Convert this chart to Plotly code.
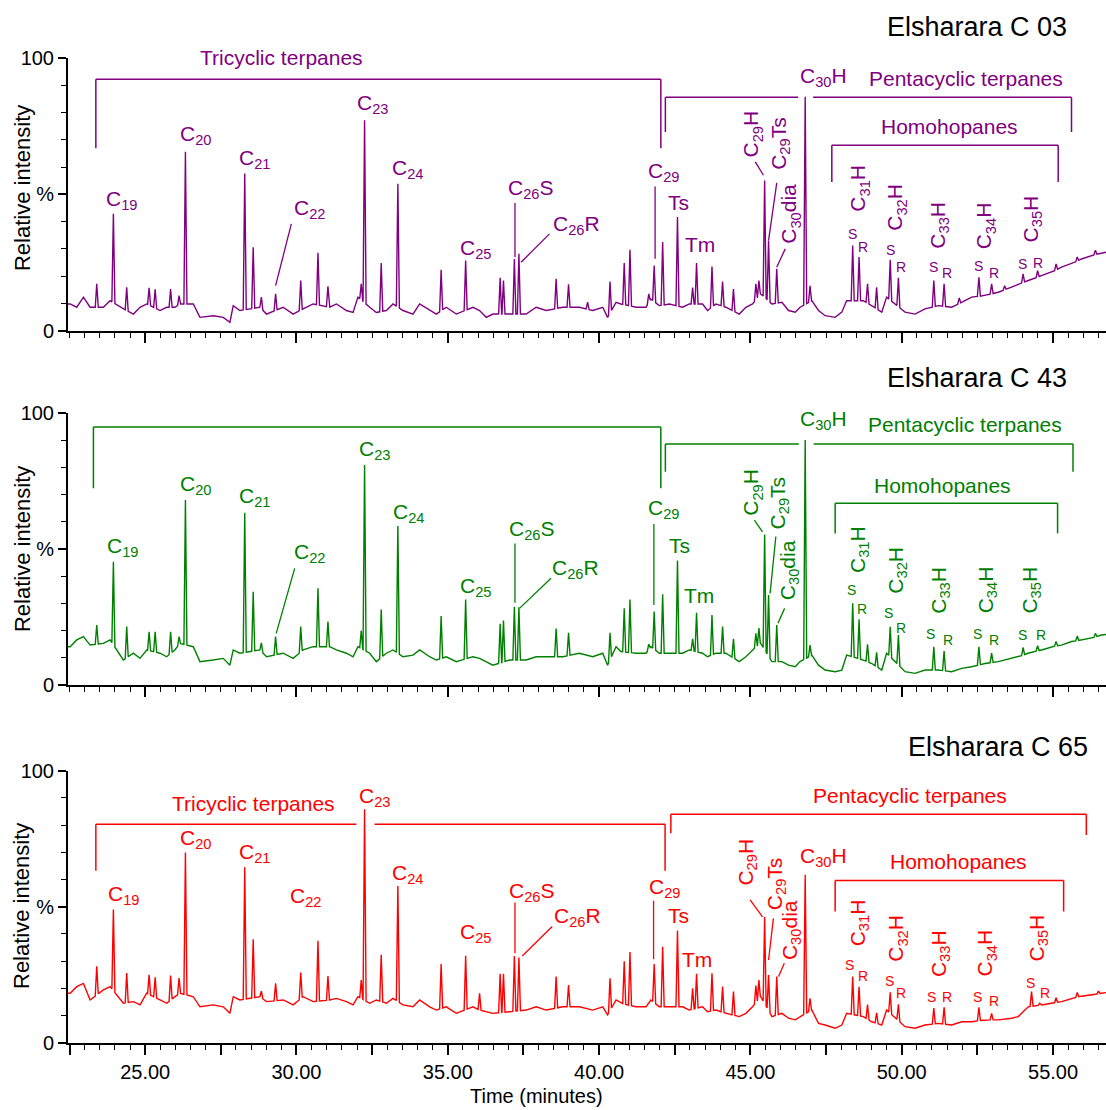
import numpy as np
import plotly.graph_objects as go

# ---------------- data ----------------
x_tickvals = [22.5, 25.0, 27.5, 30.0, 32.5, 35.0, 37.5, 40.0, 42.5, 45.0, 47.5, 50.0, 52.5, 55.0]
x_ticktext = ["", "25.00", "", "30.00", "", "35.00", "", "40.00", "", "45.00", "", "50.00", "", "55.00"]
y_tickvals = [0, 50, 100]
y_ticktext = ["0", "%", "100"]

sample_names = ["Elsharara C 03", "Elsharara C 43", "Elsharara C 65"]

# baseline (noise floor) read at common retention times (minutes)
base_t = [22.45, 22.52, 22.74, 22.96, 23.18, 23.62, 23.84, 24.28, 24.61, 24.83,
          25.05, 25.49, 25.71, 25.98, 26.15, 26.59, 26.81, 27.25, 27.58, 27.80,
          27.91, 28.13, 28.79, 29.01, 29.56, 29.89, 30.22, 30.55, 31.10, 31.32,
          31.65, 31.87, 32.03, 32.42, 32.64, 32.97, 33.19, 33.52, 33.85, 34.07,
          34.40, 34.62, 34.95, 35.28, 35.83, 36.05, 36.27, 36.49, 37.04, 37.59,
          37.92, 38.25, 38.80, 39.35, 39.79, 40.12, 40.28, 40.56, 40.72, 41.22,
          41.55, 41.71, 41.99, 42.32, 42.76, 42.98, 43.42, 43.58, 43.86, 44.19,
          44.63, 44.85, 45.07, 45.34, 45.71, 46.04, 46.26, 46.48, 46.64, 47.03,
          47.25, 47.47, 47.80, 48.02, 48.18, 48.73, 49.01, 49.34, 49.50, 50.11,
          50.44, 50.77, 51.21, 51.65, 51.98, 52.31, 52.75, 53.19, 53.63, 53.85,
          54.18, 54.62, 54.95, 55.28, 55.61, 55.94, 56.27, 56.60, 56.75]

c03_base = [9.8, 9.8, 8.6, 12.3, 8.6, 8.6, 11.0, 8.0, 6.1, 8.6,
            9.8, 7.4, 8.6, 8.6, 9.8, 9.8, 4.9, 5.5, 4.9, 3.1,
            9.2, 7.4, 8.6, 6.1, 8.6, 6.1, 8.0, 9.8, 8.6, 9.8,
            7.4, 6.7, 12.3, 8.6, 6.7, 7.4, 9.8, 7.4, 6.1, 9.8,
            7.4, 6.1, 8.6, 6.1, 8.6, 7.4, 4.9, 6.1, 6.1, 6.1,
            8.6, 7.4, 8.6, 8.6, 7.4, 8.6, 4.9, 10.4, 9.8, 8.6,
            8.6, 11.6, 9.2, 9.8, 8.6, 9.8, 9.8, 7.4, 9.8, 8.6,
            6.1, 8.6, 9.8, 13.5, 9.8, 10.4, 7.4, 6.8, 8.6, 11.0,
            7.4, 5.5, 4.9, 6.8, 11.0, 11.0, 9.2, 6.8, 12.3, 6.8,
            6.1, 8.0, 9.2, 8.6, 10.4, 12.3, 12.9, 14.1, 16.0, 17.0,
            18.4, 20.2, 21.4, 23.3, 24.5, 26.3, 27.6, 28.4, 28.8]

c43_base = [14.1, 14.1, 16.6, 17.8, 14.7, 15.3, 16.6, 9.2, 11.7, 9.8,
            12.9, 11.7, 10.4, 12.9, 15.3, 14.1, 8.6, 9.2, 9.8, 7.3,
            12.9, 11.7, 12.9, 10.4, 11.7, 9.8, 12.9, 14.1, 14.1, 12.9,
            11.7, 10.4, 14.1, 11.7, 8.6, 11.7, 12.9, 10.4, 11.0, 12.9,
            10.4, 9.2, 10.4, 8.6, 10.4, 9.8, 8.6, 7.3, 9.2, 9.2,
            10.4, 10.4, 10.4, 11.7, 10.4, 11.7, 7.3, 14.1, 12.3, 11.7,
            11.7, 14.1, 11.7, 11.7, 11.7, 12.9, 11.7, 10.4, 11.7, 11.7,
            8.6, 10.4, 12.9, 15.3, 8.6, 8.6, 7.3, 6.7, 8.6, 11.0,
            7.3, 5.5, 4.9, 5.5, 11.0, 9.2, 7.9, 5.5, 11.7, 4.9,
            4.3, 5.5, 5.5, 4.9, 6.1, 6.7, 7.9, 8.6, 9.8, 10.4,
            11.7, 12.9, 14.1, 14.7, 16.0, 16.6, 17.2, 18.4, 18.6]

c65_base = [18.2, 18.2, 20.6, 21.8, 15.7, 19.4, 20.6, 14.5, 15.1, 13.9,
            18.2, 15.7, 14.5, 16.9, 18.2, 16.9, 13.2, 13.9, 13.2, 10.8,
            16.9, 15.7, 16.9, 15.1, 15.7, 13.9, 16.9, 15.1, 15.7, 16.3,
            15.1, 13.9, 16.9, 14.5, 15.7, 14.5, 16.3, 13.9, 13.2, 15.7,
            13.2, 12.0, 13.2, 10.8, 13.2, 12.0, 11.4, 10.8, 11.4, 12.0,
            13.2, 12.0, 13.2, 13.2, 12.0, 13.2, 10.2, 15.7, 14.5, 13.2,
            13.2, 15.7, 13.2, 13.2, 13.2, 12.0, 13.2, 11.4, 12.0, 10.8,
            9.6, 10.8, 13.2, 16.9, 9.6, 10.8, 9.0, 8.4, 9.6, 12.0,
            7.1, 6.5, 5.3, 6.5, 10.8, 9.6, 7.7, 6.5, 12.0, 5.9,
            5.3, 6.5, 7.1, 6.5, 7.7, 7.7, 8.4, 8.4, 9.0, 9.6,
            13.2, 13.9, 14.5, 15.1, 16.3, 17.1, 17.5, 18.2, 18.4]

# peaks: retention time (min) and relative intensity (%)
c03_peak_t = [23.40, 23.95, 24.39, 25.13, 25.33, 25.84, 26.12, 26.33, 28.29, 28.57,
              28.84, 29.31, 30.14, 30.71, 31.04, 32.14, 32.25, 32.80, 33.35, 34.78,
              35.59, 36.73, 36.84, 37.20, 37.35, 38.58, 38.99, 39.62, 40.36, 40.83,
              41.02, 41.64, 41.82, 42.10, 42.59, 43.09, 43.22, 43.73, 44.08, 44.44,
              45.18, 45.28, 45.47, 45.60, 45.87, 46.81, 46.97, 48.38, 48.59, 48.87,
              49.17, 49.62, 49.89, 51.06, 51.40, 51.90, 52.55, 52.97, 53.40, 54.01,
              54.49, 55.10, 55.80, 56.40]
c03_peak_v = [17.2, 42.9, 15.9, 15.7, 15.2, 15.3, 12.9, 65.6, 57.6, 30.6,
              12.3, 13.5, 18.4, 28.6, 16.3, 17.2, 77.2, 24.8, 53.9, 22.3,
              25.7, 19.4, 18.4, 26.3, 28.2, 19.0, 17.0, 10.5, 18.0, 24.8,
              29.7, 13.5, 23.9, 32.5, 41.7, 15.8, 24.8, 23.5, 18.0, 15.3,
              17.2, 18.4, 55.1, 33.1, 22.7, 85.8, 16.5, 31.2, 27.0, 17.2,
              15.9, 26.0, 19.4, 18.4, 17.2, 12.0, 19.6, 17.2, 16.5, 20.8,
              22.0, 24.5, 27.0, 29.5]

c43_peak_t = [23.40, 23.95, 24.39, 25.13, 25.33, 25.84, 26.12, 26.33, 28.29, 28.57,
              28.84, 29.31, 30.14, 30.71, 31.04, 32.14, 32.25, 32.80, 33.35, 34.78,
              35.59, 36.73, 36.84, 37.20, 37.35, 38.58, 38.99, 40.36, 40.83, 41.02,
              41.64, 41.82, 42.10, 42.59, 43.09, 43.22, 43.73, 44.08, 44.44, 45.18,
              45.28, 45.47, 45.60, 45.87, 46.81, 46.97, 48.38, 48.59, 48.87, 49.17,
              49.62, 49.89, 51.06, 51.40, 52.55, 52.97, 54.01, 54.49, 55.10, 55.80,
              56.40]
c43_peak_v = [22.1, 45.4, 21.5, 19.6, 19.6, 19.6, 17.8, 68.1, 63.4, 34.3,
              15.5, 17.8, 21.5, 35.6, 23.4, 20.0, 81.0, 27.8, 58.5, 25.4,
              31.5, 22.5, 23.7, 28.8, 28.6, 20.8, 19.2, 19.2, 28.2, 31.5,
              15.0, 27.0, 33.4, 45.8, 17.0, 26.6, 25.8, 21.5, 17.0, 19.0,
              21.0, 55.4, 33.1, 22.1, 90.2, 14.7, 30.1, 24.2, 15.0, 12.0,
              21.4, 18.4, 14.1, 12.5, 14.1, 11.7, 13.8, 14.5, 16.0, 18.0,
              19.0]

c65_peak_t = [23.40, 23.95, 24.39, 25.13, 25.33, 25.84, 26.12, 26.33, 28.29, 28.57,
              28.84, 29.31, 30.14, 30.71, 31.04, 32.14, 32.25, 32.80, 33.35, 34.78,
              35.59, 36.05, 36.73, 36.84, 37.20, 37.35, 38.58, 38.99, 40.36, 40.83,
              41.02, 41.82, 42.10, 42.59, 43.09, 43.22, 43.73, 44.08, 44.44, 45.18,
              45.28, 45.47, 45.60, 45.87, 46.81, 46.97, 48.38, 48.59, 48.87, 49.17,
              49.62, 49.89, 51.06, 51.40, 52.55, 52.97, 54.29, 54.56, 55.10, 55.80,
              56.50]
c65_peak_v = [28.1, 49.0, 25.6, 25.0, 24.0, 24.7, 23.8, 69.9, 64.5, 38.0,
              19.0, 21.8, 25.8, 37.5, 24.5, 23.0, 85.8, 32.3, 57.6, 28.9,
              32.0, 18.2, 25.3, 25.3, 31.9, 31.3, 24.3, 21.2, 23.7, 29.9,
              33.3, 28.9, 35.3, 41.2, 20.0, 25.3, 25.5, 20.6, 18.8, 21.0,
              23.0, 46.2, 24.9, 24.3, 61.7, 16.3, 24.3, 20.6, 14.0, 11.0,
              18.5, 14.1, 12.7, 13.0, 13.0, 10.8, 18.8, 14.5, 16.5, 18.5,
              19.0]

# ---------------- styling / annotation layout ----------------
FONT = "Liberation Sans, Arial, sans-serif"
COLORS = ["#800080", "#008000", "#ff0000"]
X_RANGE = [22.45, 56.75]
DOMAINS = [(0.70207, 0.94775), (0.38288, 0.62766), (0.06063, 0.30568)]
TITLE_POS = [(0.9644, 0.9759), (0.9644, 0.6592), (0.9846, 0.3273)]
YLABEL_POS = [0.8306, 0.5054, 0.1838]
PEAK_HALF_WIDTH = 0.05

panels = [
    dict(  # C 03
        labels=[("C<sub>19</sub>", 24.25, 47.8), ("C<sub>20</sub>", 26.67, 71.7), ("C<sub>21</sub>", 28.62, 63.1),
                ("C<sub>22</sub>", 30.44, 44.7), ("C<sub>23</sub>", 32.53, 83.3), ("C<sub>24</sub>", 33.68, 59.4),
                ("C<sub>25</sub>", 35.94, 30.0), ("C<sub>26</sub>S", 37.75, 52.1), ("C<sub>26</sub>R", 39.24, 38.6),
                ("C<sub>29</sub>", 42.15, 58.2), ("Ts", 42.62, 46.9), ("Tm", 43.33, 31.6),
                ("C<sub>30</sub>H", 47.40, 93.0)],
        rot=[("C<sub>29</sub>H", 45.05, 72.3), ("C<sub>29</sub>Ts", 45.95, 68.6), ("C<sub>30</sub>dia", 46.31, 42.9),
             ("C<sub>31</sub>H", 48.59, 52.1), ("C<sub>32</sub>H", 49.83, 45.3), ("C<sub>33</sub>H", 51.24, 38.6),
             ("C<sub>34</sub>H", 52.78, 38.6), ("C<sub>35</sub>H", 54.29, 41.0)],
        sr=[("S", 48.38, 35.5), ("R", 48.73, 30.6), ("S", 49.63, 29.7), ("R", 49.99, 23.3),
            ("S", 51.06, 23.3), ("R", 51.48, 21.1), ("S", 52.53, 23.9), ("R", 53.05, 21.1),
            ("S", 53.98, 24.5), ("R", 54.49, 24.9)],
        pointers=[(29.31, 16.5, 29.83, 39.2), (37.22, 27.0, 37.22, 46.8), (37.42, 25.1, 38.36, 35.5),
                  (41.85, 26.4, 41.85, 52.9), (45.16, 61.9, 45.43, 57.0), (45.87, 54.2, 45.60, 33.1),
                  (46.15, 30.0, 45.87, 23.3)],
        brackets=[(23.37, 42.04, 92.2, 66.9, 66.9, None),
                  (42.19, 55.61, 85.6, 72.9, 72.9, (46.58, 47.07)),
                  (47.69, 55.17, 68.0, 54.5, 54.5, None)],
        groups=[("Tricyclic terpanes", 29.50, 100.0), ("Pentacyclic terpanes", 52.14, 92.3),
                ("Homohopanes", 51.59, 75.0)],
    ),
    dict(  # C 43
        labels=[("C<sub>19</sub>", 24.28, 50.9), ("C<sub>20</sub>", 26.67, 73.6), ("C<sub>21</sub>", 28.62, 69.3),
                ("C<sub>22</sub>", 30.44, 48.7), ("C<sub>23</sub>", 32.58, 86.5), ("C<sub>24</sub>", 33.71, 63.2),
                ("C<sub>25</sub>", 35.94, 36.2), ("C<sub>26</sub>S", 37.79, 57.0), ("C<sub>26</sub>R", 39.22, 42.6),
                ("C<sub>29</sub>", 42.15, 64.7), ("Ts", 42.65, 51.2), ("Tm", 43.31, 33.1),
                ("C<sub>30</sub>H", 47.41, 97.5)],
        rot=[("C<sub>29</sub>H", 45.05, 71.1), ("C<sub>29</sub>Ts", 45.95, 66.9), ("C<sub>30</sub>dia", 46.26, 42.1),
             ("C<sub>31</sub>H", 48.59, 49.7), ("C<sub>32</sub>H", 49.83, 42.3), ("C<sub>33</sub>H", 51.26, 35.0),
             ("C<sub>34</sub>H", 52.80, 35.0), ("C<sub>35</sub>H", 54.26, 35.0)],
        sr=[("S", 48.35, 35.0), ("R", 48.68, 27.9), ("S", 49.56, 26.4), ("R", 49.97, 20.9),
            ("S", 50.96, 18.8), ("R", 51.54, 16.6), ("S", 52.52, 18.8), ("R", 53.05, 16.6),
            ("S", 53.98, 18.4), ("R", 54.60, 18.4)],
        pointers=[(29.33, 19.0, 29.94, 42.9), (37.22, 30.3, 37.22, 52.1), (37.37, 28.2, 38.41, 39.3),
                  (41.81, 29.4, 41.81, 59.3), (45.13, 60.7, 45.40, 56.4), (45.84, 54.6, 45.65, 33.7),
                  (46.13, 28.2, 45.91, 22.7)],
        brackets=[(23.29, 42.04, 95.0, 72.4, 72.4, None),
                  (42.19, 55.66, 88.7, 78.5, 78.5, (46.60, 47.09)),
                  (47.80, 55.15, 66.9, 55.8, 55.8, None)],
        groups=[("Tricyclic terpanes", 29.23, 101.8), ("Pentacyclic terpanes", 52.09, 95.7),
                ("Homohopanes", 51.34, 73.6)],
    ),
    dict(  # C 65
        labels=[("C<sub>19</sub>", 24.30, 54.3), ("C<sub>20</sub>", 26.67, 74.8), ("C<sub>21</sub>", 28.62, 69.9),
                ("C<sub>22</sub>", 30.31, 53.7), ("C<sub>23</sub>", 32.58, 90.4), ("C<sub>24</sub>", 33.70, 62.0),
                ("C<sub>25</sub>", 35.94, 40.2), ("C<sub>26</sub>S", 37.79, 55.5), ("C<sub>26</sub>R", 39.29, 46.1),
                ("C<sub>29</sub>", 42.18, 56.8), ("Ts", 42.62, 46.6), ("Tm", 43.25, 30.7),
                ("C<sub>30</sub>H", 47.41, 68.4)],
        rot=[("C<sub>29</sub>H", 44.88, 66.5), ("C<sub>29</sub>Ts", 45.84, 58.6), ("C<sub>30</sub>dia", 46.34, 41.4),
             ("C<sub>31</sub>H", 48.59, 43.9), ("C<sub>32</sub>H", 49.86, 38.4), ("C<sub>33</sub>H", 51.26, 32.9),
             ("C<sub>34</sub>H", 52.78, 33.1), ("C<sub>35</sub>H", 54.51, 38.4)],
        sr=[("S", 48.29, 28.6), ("R", 48.73, 24.5), ("S", 49.58, 22.8), ("R", 49.99, 18.4),
            ("S", 50.99, 16.7), ("R", 51.48, 16.9), ("S", 52.51, 16.9), ("R", 53.05, 15.4),
            ("S", 54.25, 22.1), ("R", 54.75, 18.4)],
        pointers=[(37.22, 32.9, 37.22, 51.5), (37.46, 31.9, 38.45, 42.7), (41.80, 30.7, 41.80, 52.2),
                  (44.99, 52.5, 45.40, 46.3), (45.76, 45.7, 45.60, 30.4), (46.12, 29.2, 45.93, 24.3)],
        brackets=[(23.37, 42.18, 80.3, 63.2, 63.2, (31.98, 32.58)),
                  (42.37, 56.10, 84.0, 77.0, 76.4, None),
                  (47.80, 55.35, 59.6, 48.2, 48.2, None)],
        groups=[("Tricyclic terpanes", 28.59, 88.0), ("Pentacyclic terpanes", 50.27, 90.7),
                ("Homohopanes", 51.87, 66.5)],
    ),
]

series = [(c03_base, c03_peak_t, c03_peak_v),
          (c43_base, c43_peak_t, c43_peak_v),
          (c65_base, c65_peak_t, c65_peak_v)]


def build_trace_xy(bt, bv, pt, pv, w=PEAK_HALF_WIDTH):
    bt = np.asarray(bt, float)
    bv = np.asarray(bv, float)
    pt = np.asarray(pt, float)
    pv = np.asarray(pv, float)
    keep = np.array([np.min(np.abs(pt - t)) > w + 0.005 for t in bt])
    xs = list(bt[keep])
    ys = list(bv[keep])
    for t, v in zip(pt, pv):
        for tt in (t - w, t + w):
            xs.append(tt)
            ys.append(float(np.interp(tt, bt, bv)))
        xs.append(t)
        ys.append(v)
    order = np.argsort(np.array(xs), kind="stable")
    return np.array(xs)[order], np.array(ys)[order]


fig = go.Figure()
annotations = []
shapes = []

for k in range(3):
    sfx = "" if k == 0 else str(k + 1)
    xref, yref = "x" + sfx, "y" + sfx
    col = COLORS[k]
    bvals, pt, pv = series[k]
    xs, ys = build_trace_xy(base_t, bvals, pt, pv)
    fig.add_trace(go.Scatter(x=xs, y=ys, mode="lines", line=dict(color=col, width=1.4),
                             xaxis=xref, yaxis=yref, showlegend=False, hoverinfo="skip"))

    cfg = panels[k]
    for txt, t, v in cfg["labels"]:
        annotations.append(dict(text=txt, x=t, y=v, xref=xref, yref=yref, showarrow=False,
                                xanchor="center", yanchor="middle",
                                font=dict(family=FONT, size=21, color=col)))
    for txt, t, v in cfg["rot"]:
        annotations.append(dict(text=txt, x=t, y=v, xref=xref, yref=yref, showarrow=False,
                                textangle=-90, xanchor="center", yanchor="middle",
                                font=dict(family=FONT, size=21, color=col)))
    for txt, t, v in cfg["sr"]:
        annotations.append(dict(text=txt, x=t, y=v, xref=xref, yref=yref, showarrow=False,
                                xanchor="center", yanchor="middle",
                                font=dict(family=FONT, size=14, color=col)))
    for txt, t, v in cfg["groups"]:
        annotations.append(dict(text=txt, x=t, y=v, xref=xref, yref=yref, showarrow=False,
                                xanchor="center", yanchor="middle",
                                font=dict(family=FONT, size=21, color=col)))
    for (x0, y0, x1, y1) in cfg["pointers"]:
        shapes.append(dict(type="line", xref=xref, yref=yref, x0=x0, y0=y0, x1=x1, y1=y1,
                           line=dict(color=col, width=1.3), layer="above"))
    for (xl, xr, top, bl, br, gap) in cfg["brackets"]:
        ln = dict(color=col, width=1.5)
        shapes.append(dict(type="line", xref=xref, yref=yref, x0=xl, y0=bl, x1=xl, y1=top, line=ln))
        shapes.append(dict(type="line", xref=xref, yref=yref, x0=xr, y0=br, x1=xr, y1=top, line=ln))
        if gap is None:
            shapes.append(dict(type="line", xref=xref, yref=yref, x0=xl, y0=top, x1=xr, y1=top, line=ln))
        else:
            shapes.append(dict(type="line", xref=xref, yref=yref, x0=xl, y0=top, x1=gap[0], y1=top, line=ln))
            shapes.append(dict(type="line", xref=xref, yref=yref, x0=gap[1], y0=top, x1=xr, y1=top, line=ln))

    # sample title
    annotations.append(dict(text=sample_names[k], x=TITLE_POS[k][0], y=TITLE_POS[k][1],
                            xref="paper", yref="paper", showarrow=False,
                            xanchor="right", yanchor="middle",
                            font=dict(family=FONT, size=27, color="black")))
    # y-axis title
    annotations.append(dict(text="Relative intensity", x=-0.0443, y=YLABEL_POS[k],
                            xref="paper", yref="paper", showarrow=False, textangle=-90,
                            xanchor="center", yanchor="middle",
                            font=dict(family=FONT, size=22, color="black")))

annotations.append(dict(text="Time (minutes)", x=0.4518, y=1 - 1096 / 1110, xref="paper", yref="paper",
                        showarrow=False, xanchor="center", yanchor="middle",
                        font=dict(family=FONT, size=20, color="black")))

layout = dict(
    width=1106, height=1110,
    margin=dict(l=68, r=0, t=0, b=0, pad=0, autoexpand=False),
    paper_bgcolor="white", plot_bgcolor="white",
    showlegend=False, hovermode=False,
    annotations=annotations, shapes=shapes,
    font=dict(family=FONT, color="black"),
)
for k in range(3):
    sfx = "" if k == 0 else str(k + 1)
    layout["xaxis" + sfx] = dict(
        domain=[0, 1], anchor="y" + sfx, range=X_RANGE, showgrid=False, zeroline=False,
        automargin=False,
        showline=True, linecolor="black", linewidth=2,
        tickmode="array", tickvals=x_tickvals, ticktext=x_ticktext,
        ticks="outside", ticklen=10, tickwidth=1.5, tickcolor="black",
        showticklabels=(k == 2), tickfont=dict(family=FONT, size=20, color="black"),
        minor=dict(tickmode="linear", tick0=0, dtick=0.5, ticks="outside", ticklen=5,
                   tickwidth=1.2, tickcolor="black", showgrid=False),
    )
    layout["yaxis" + sfx] = dict(
        domain=list(DOMAINS[k]), anchor="x" + sfx, range=[0, 100], showgrid=False, zeroline=False,
        automargin=False,
        showline=True, linecolor="black", linewidth=2,
        tickmode="array", tickvals=y_tickvals, ticktext=y_ticktext,
        ticks="outside", ticklen=8, tickwidth=1.5, tickcolor="black",
        tickfont=dict(family=FONT, size=20, color="black"),
        minor=dict(tickmode="linear", tick0=0, dtick=10, ticks="outside", ticklen=5,
                   tickwidth=1.2, tickcolor="black", showgrid=False),
    )

fig.update_layout(**layout)
fig.write_html("out.html", config={"displayModeBar": False},
               post_script="document.body.style.margin='0px';document.body.style.overflow='hidden';")
